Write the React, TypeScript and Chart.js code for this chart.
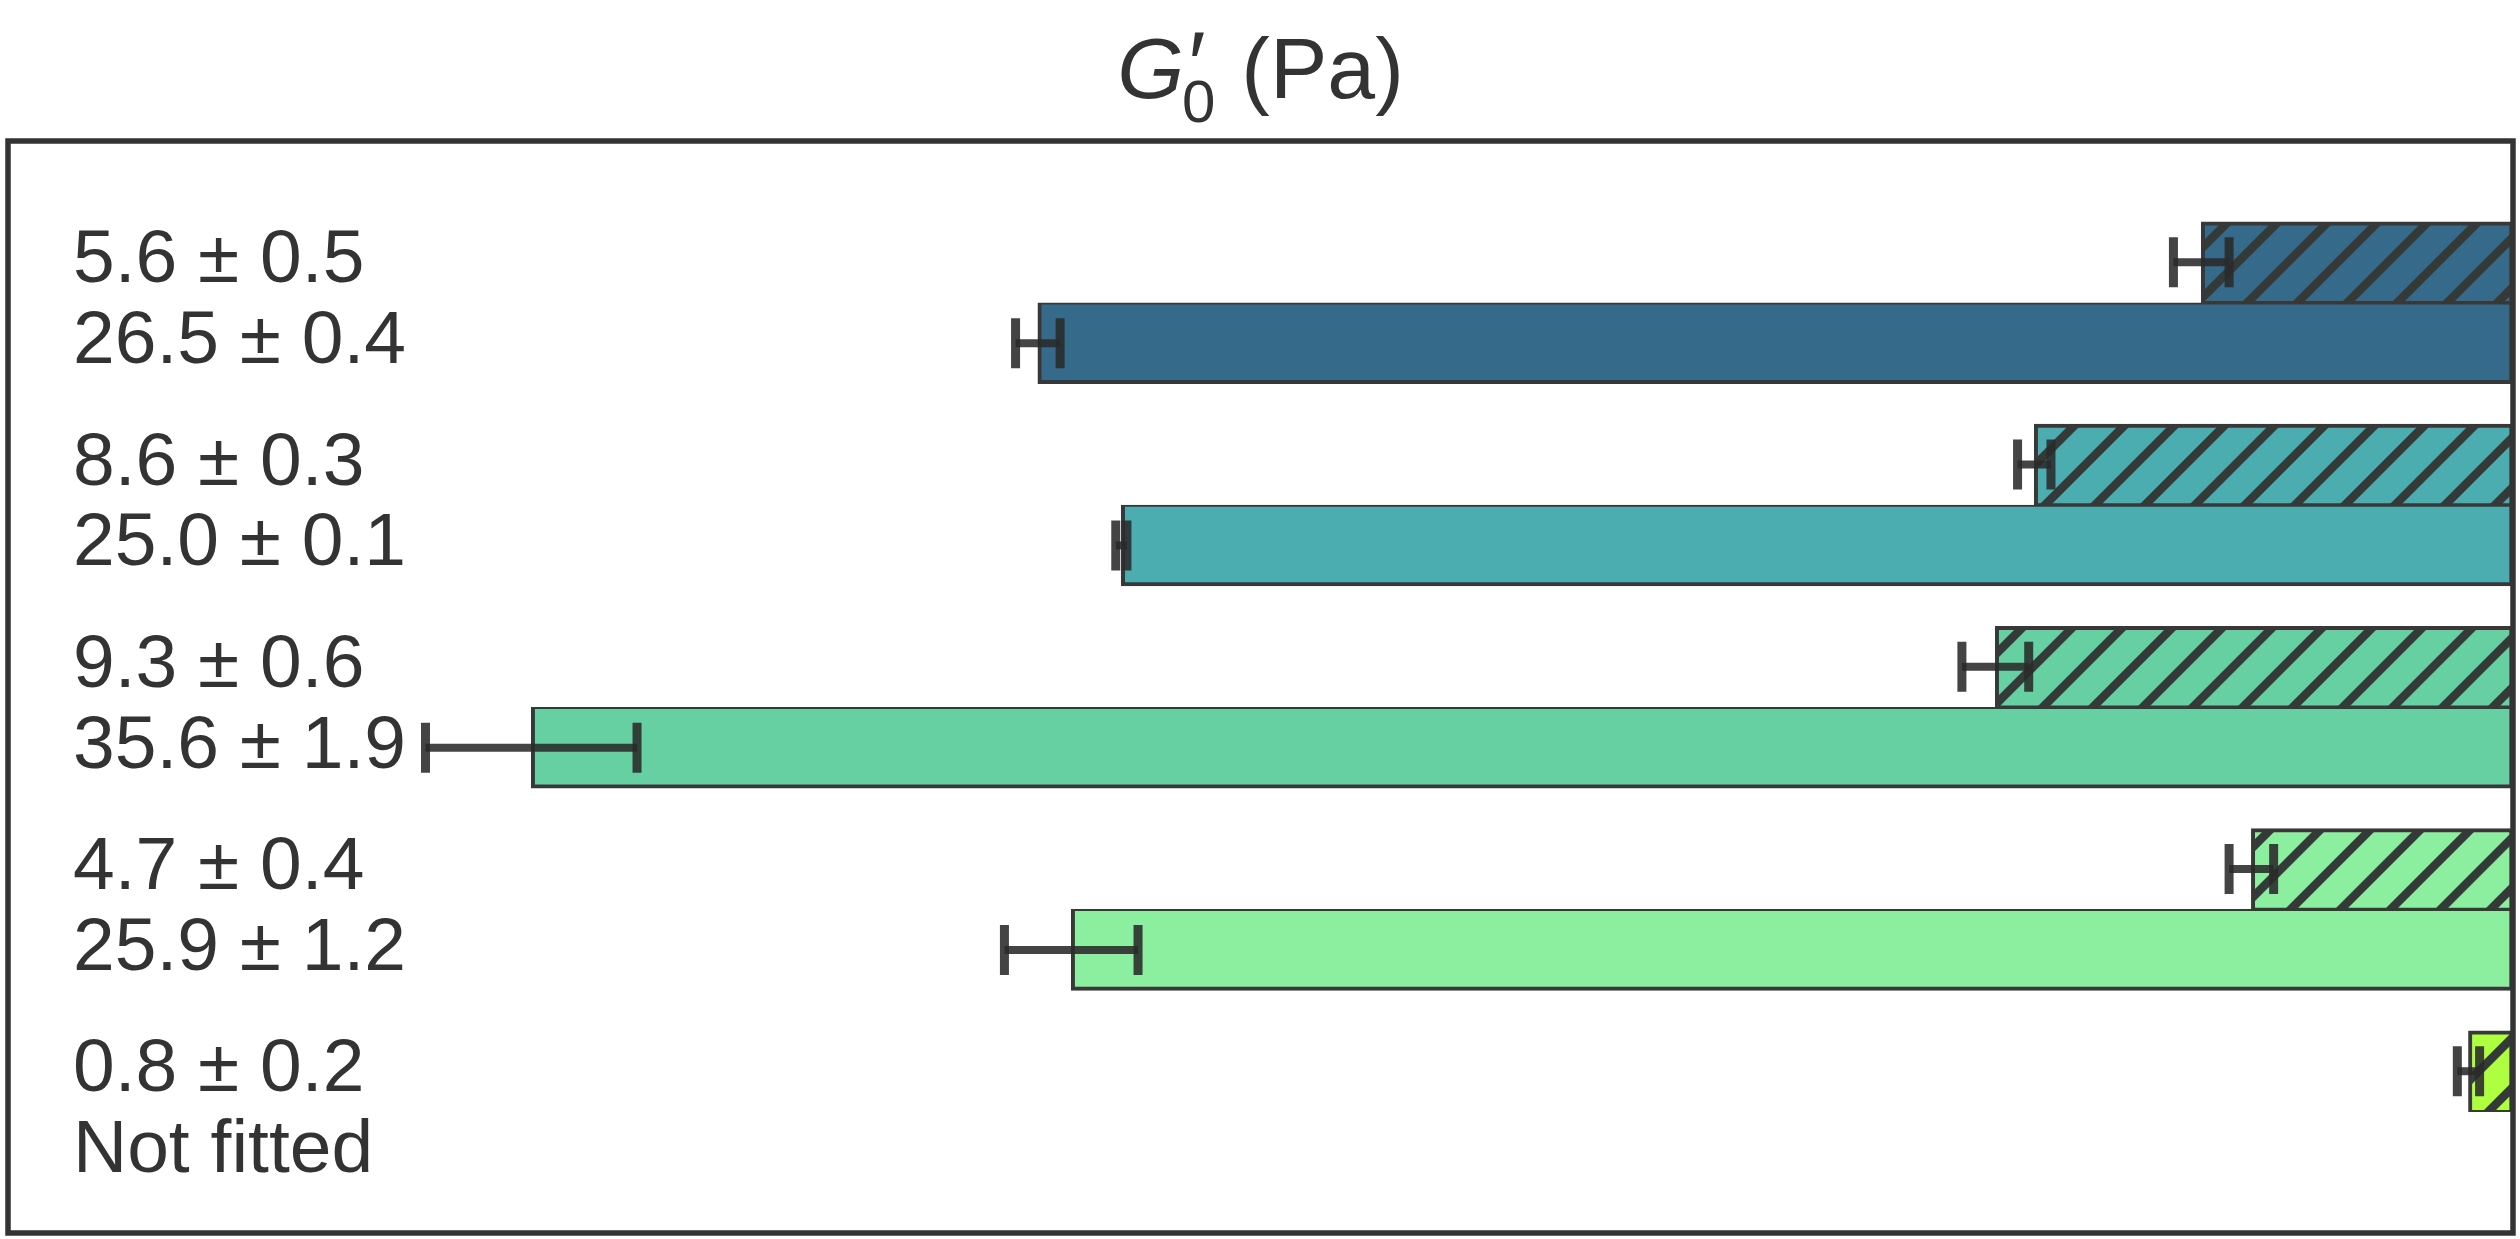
import React, { useEffect, useRef } from "react";
import { Chart, registerables } from "chart.js";

Chart.register(...registerables);

// ---- data ----
const groupPositions = [0, 1, 2, 3, 4];
const hatchedValues = [5.6, 8.6, 9.3, 4.7, 0.8];
const hatchedErrors = [0.5, 0.3, 0.6, 0.4, 0.2];
const solidValues = [26.5, 25.0, 35.6, 25.9, 0];
const solidErrors: (number | null)[] = [0.4, 0.1, 1.9, 1.2, null];
const hatchedLabels = ["5.6 ± 0.5", "8.6 ± 0.3", "9.3 ± 0.6", "4.7 ± 0.4", "0.8 ± 0.2"];
const solidLabels = ["26.5 ± 0.4", "25.0 ± 0.1", "35.6 ± 1.9", "25.9 ± 1.2", "Not fitted"];
const groupColors = ["#366a8a", "#4badb0", "#66d0a3", "#8cefa0", "#adff3f"];
const xAxisMax = 45;
const yAxisMin = -0.8;
const yAxisMax = 4.6;
const barOffset = 0.2;

const FONT = '"Liberation Sans", Arial, sans-serif';
const TEXT_COLOR = "#333333";
const EDGE_COLOR = "#383838";

function makeHatch(color: string): CanvasPattern | string {
  const s = 50;
  const c = document.createElement("canvas");
  c.width = s;
  c.height = s;
  const g = c.getContext("2d");
  if (!g) return color;
  g.fillStyle = color;
  g.fillRect(0, 0, s, s);
  g.strokeStyle = "#343a38";
  g.lineWidth = 8.5;
  g.lineCap = "square";
  const seg = (x1: number, y1: number, x2: number, y2: number) => {
    g.beginPath();
    g.moveTo(x1, y1);
    g.lineTo(x2, y2);
    g.stroke();
  };
  seg(-10, s + 10, s + 10, -10);
  seg(-10, 10, 10, -10);
  seg(s - 10, s + 10, s + 10, s - 10);
  const p = g.createPattern(c, "repeat");
  return p || color;
}

const errorBarPlugin = {
  id: "errorBars",
  afterDatasetsDraw(chart: any) {
    const ctx = chart.ctx;
    const xs = chart.scales.x;
    const errs = [hatchedErrors, solidErrors];
    const vals = [hatchedValues, solidValues];
    ctx.save();
    ctx.strokeStyle = "rgba(42,42,42,0.88)";
    ctx.lineCap = "butt";
    for (let d = 0; d < 2; d++) {
      const meta = chart.getDatasetMeta(d);
      meta.data.forEach((el: any, i: number) => {
        const e = errs[d][i];
        if (e === null || e === undefined) return;
        const v = vals[d][i];
        const x1 = xs.getPixelForValue(v - e);
        const x2 = xs.getPixelForValue(v + e);
        const y = el.y;
        ctx.lineWidth = 8;
        ctx.beginPath();
        ctx.moveTo(x1, y);
        ctx.lineTo(x2, y);
        ctx.stroke();
        ctx.lineWidth = 9;
        ctx.beginPath();
        ctx.moveTo(x1, y - 25);
        ctx.lineTo(x1, y + 25);
        ctx.moveTo(x2, y - 25);
        ctx.lineTo(x2, y + 25);
        ctx.stroke();
      });
    }
    ctx.restore();
  },
};

const framePlugin = {
  id: "frameAndText",
  afterDraw(chart: any) {
    const ctx = chart.ctx;
    const a = chart.chartArea;
    const ys = chart.scales.y;
    ctx.save();
    // frame
    ctx.strokeStyle = "#333333";
    ctx.lineWidth = 5.5;
    ctx.strokeRect(a.left, a.top, a.right - a.left, a.bottom - a.top);

    // row labels
    ctx.fillStyle = TEXT_COLOR;
    ctx.font = `75px ${FONT}`;
    ctx.textAlign = "left";
    ctx.textBaseline = "alphabetic";
    groupPositions.forEach((g, i) => {
      const yh = ys.getPixelForValue(g - barOffset);
      const yv = ys.getPixelForValue(g + barOffset);
      ctx.fillText(hatchedLabels[i], a.left + 65, yh + 20);
      ctx.fillText(solidLabels[i], a.left + 65, yv + 20);
    });

    // title: G'_0 (Pa)
    const base = 98;
    const cx = (a.left + a.right) / 2;
    ctx.font = `italic 86px ${FONT}`;
    const wG = ctx.measureText("G").width;
    ctx.font = `60px ${FONT}`;
    const wSub = ctx.measureText("0").width;
    ctx.font = `86px ${FONT}`;
    const wSp = ctx.measureText(" ").width;
    const wPa = ctx.measureText("(Pa)").width;
    const total = wG + wSub + wSp + wPa;
    let x = cx - total / 2;
    ctx.font = `italic 86px ${FONT}`;
    ctx.fillText("G", x, base);
    ctx.font = `60px ${FONT}`;
    ctx.fillText("0", x + wG - 2, base + 24);
    ctx.font = `italic 92px ${FONT}`;
    ctx.fillText("′", x + wG, base - 2);
    x += wG + wSub + wSp;
    ctx.font = `86px ${FONT}`;
    ctx.fillText("(Pa)", x, base);
    ctx.restore();
  },
};

export default function App() {
  const ref = useRef<HTMLCanvasElement | null>(null);
  useEffect(() => {
    document.body.style.margin = "0";
    const canvas = ref.current;
    if (!canvas) return;
    const hatched = groupColors.map((c) => makeHatch(c));
    const chart = new Chart(canvas, {
      type: "bar",
      data: {
        datasets: [
          {
            label: "hatched",
            data: groupPositions.map((g, i) => ({ x: hatchedValues[i], y: g - barOffset })),
            backgroundColor: hatched as any,
            borderColor: EDGE_COLOR,
            borderWidth: { top: 4, bottom: 2, left: 4, right: 4 } as any,
            borderSkipped: false,
            grouped: false,
            categoryPercentage: 1,
            barPercentage: 1,
          },
          {
            label: "solid",
            data: groupPositions.map((g, i) => ({ x: solidValues[i], y: g + barOffset })),
            backgroundColor: groupColors,
            borderColor: EDGE_COLOR,
            borderWidth: { top: 2, bottom: 4, left: 4, right: 4 } as any,
            borderSkipped: false,
            grouped: false,
            categoryPercentage: 1,
            barPercentage: 1,
          },
        ],
      },
      options: {
        indexAxis: "y",
        animation: false,
        responsive: false,
        devicePixelRatio: 1,
        layout: { padding: { left: 8, right: 7, top: 141, bottom: 6 } },
        plugins: { legend: { display: false }, tooltip: { enabled: false }, title: { display: false } },
        scales: {
          x: { type: "linear", reverse: true, min: 0, max: xAxisMax, display: false, offset: false },
          y: {
            type: "linear",
            reverse: true,
            min: yAxisMin,
            max: yAxisMax,
            display: false,
            offset: false,
            grid: { offset: false },
            ticks: { stepSize: 1 },
          },
        },
      },
      plugins: [errorBarPlugin, framePlugin],
    });
    if ((document as any).fonts) {
      (document as any).fonts.load(`75px "Liberation Sans"`).then(() => chart.draw());
    }
    return () => chart.destroy();
  }, []);
  return (
    <canvas
      ref={ref}
      width={2520}
      height={1239}
      style={{ display: "block", width: 2520, height: 1239 }}
    />
  );
}
